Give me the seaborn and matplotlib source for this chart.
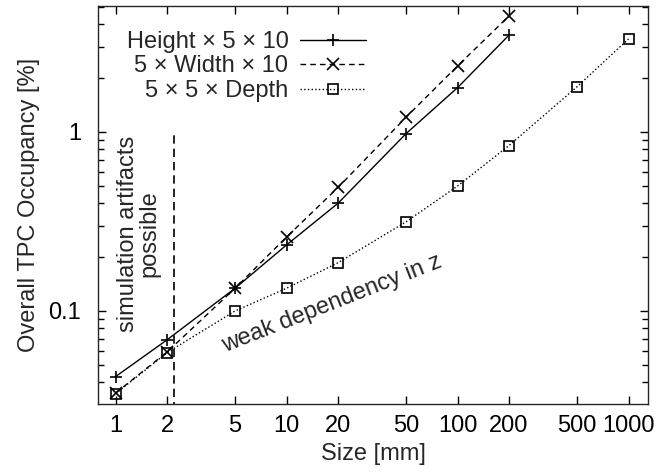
import numpy as np
import pandas as pd
import seaborn as sns
import matplotlib.pyplot as plt
from matplotlib.ticker import LogLocator, NullFormatter, NullLocator

# data
size_hw = [1, 2, 5, 10, 20, 50, 100, 200]
height = [0.043, 0.069, 0.134, 0.234, 0.40, 0.98, 1.77, 3.48]
width = [0.0348, 0.059, 0.134, 0.259, 0.49, 1.21, 2.34, 4.45]

size_d = [1, 2, 5, 10, 20, 50, 100, 200, 500, 1000]
depth = [0.0345, 0.0585, 0.100, 0.134, 0.186, 0.315, 0.499, 0.84, 1.79, 3.31]

labels = ["Height \u00d7 5 \u00d7 10", "5 \u00d7 Width \u00d7 10", "5 \u00d7 5 \u00d7 Depth"]
xticks = [1, 2, 5, 10, 20, 50, 100, 200, 500, 1000]
yticks = [0.1, 1]

# cutoff line for simulation artifacts
cut_x = 2.18
cut_ytop = 1.0

sns.set_theme(style="ticks")
fs = 17
plt.rcParams.update({
    "font.family": ["Liberation Sans", "DejaVu Sans"],
    "font.size": fs,
    "axes.labelsize": fs,
    "xtick.labelsize": fs,
    "ytick.labelsize": fs,
    "legend.fontsize": fs,
    "axes.linewidth": 1.0,
    "xtick.direction": "in",
    "ytick.direction": "in",
})

df_h = pd.DataFrame({"size": size_hw, "occ": height})
df_w = pd.DataFrame({"size": size_hw, "occ": width})
df_d = pd.DataFrame({"size": size_d, "occ": depth})

fig = plt.figure(figsize=(6.59, 4.76), dpi=100)
ax = fig.add_axes([0.1487, 0.1513, 0.8346, 0.8361])

sns.lineplot(data=df_h, x="size", y="occ", ax=ax, color="black", lw=1.0,
             marker="+", markersize=9, markeredgewidth=1.2,
             markeredgecolor="black", label=labels[0])
sns.lineplot(data=df_w, x="size", y="occ", ax=ax, color="black", lw=1.0,
             marker="x", markersize=8, markeredgewidth=1.2,
             markeredgecolor="black", label=labels[1])
ax.lines[-1].set_dashes((4, 3))
sns.lineplot(data=df_d, x="size", y="occ", ax=ax, color="black", lw=1.0,
             marker="s", markersize=7, markeredgewidth=1.2,
             markerfacecolor="none", markeredgecolor="black", label=labels[2])
ax.lines[-1].set_linestyle(":")

ax.plot([cut_x, cut_x], [0.01, cut_ytop], color="black", lw=1.2,
        dashes=(5, 3))

ax.set_xscale("log")
ax.set_yscale("log")
ax.set_xlim(0.788, 1300)
ax.set_ylim(0.0302, 5.06)

ax.set_xticks(xticks, [str(t) for t in xticks])
ax.xaxis.set_minor_locator(NullLocator())
ax.set_yticks(yticks, ["0.1", "1"])
ax.yaxis.set_minor_locator(LogLocator(base=10, subs=np.arange(2, 10)))
ax.yaxis.set_minor_formatter(NullFormatter())
ax.tick_params(which="both", top=True, right=True, colors="black")
ax.tick_params(which="major", length=6, width=1.0)
ax.tick_params(which="minor", length=4, width=1.0)
ax.tick_params(axis="x", pad=8)
ax.tick_params(axis="y", pad=12)

ax.set_xlabel("Size [mm]", labelpad=4)
ax.set_ylabel("Overall TPC Occupancy [%]", labelpad=6)

ax.text(1.36, 0.27, "simulation artifacts\npossible", rotation=90,
        ha="center", va="center", multialignment="center",
        linespacing=1.0)
ax.text(18.5, 0.11, "weak dependency in z", rotation=21.5,
        ha="center", va="center", rotation_mode="anchor")

leg = ax.legend(loc="upper left", bbox_to_anchor=(0.052, 0.937),
                markerfirst=False, frameon=False, handlelength=2.8,
                handletextpad=0.5, labelspacing=0.1, borderpad=0,
                borderaxespad=0)
# right-align the legend texts like gnuplot does
for col in leg._legend_box._children[1]._children:
    col.align = "right"

fig.savefig("out.png", dpi=100)
